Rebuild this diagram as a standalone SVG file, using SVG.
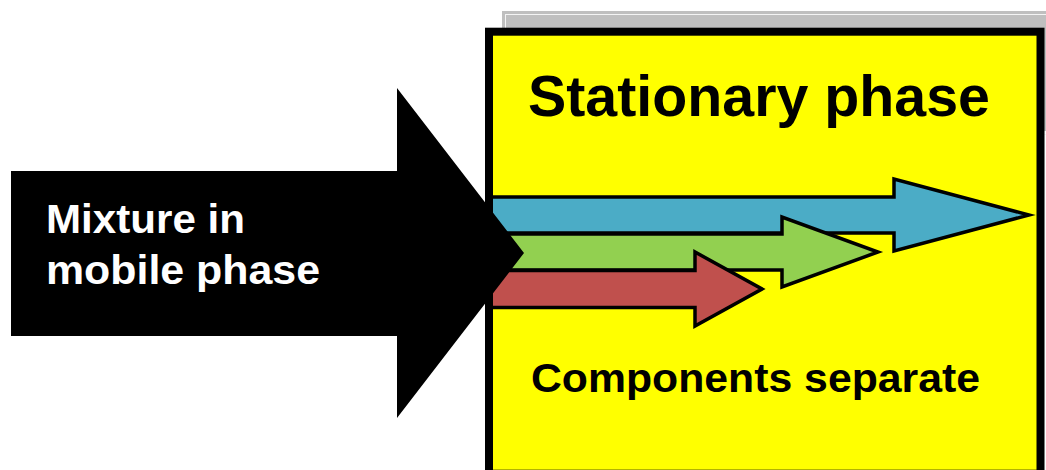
<svg xmlns="http://www.w3.org/2000/svg" width="1046" height="470" viewBox="0 0 1046 470">
  <style>
    .lbl { font-family: "Liberation Sans", Arial, sans-serif; font-weight: bold; }
    .band { stroke: #000; stroke-width: 3.5; stroke-linejoin: miter; }
  </style>
  <rect width="1046" height="470" fill="#ffffff"/>
  <g id="shadow">
    <rect x="502" y="11" width="560" height="120" fill="#BFBFBF"/>
    <rect x="505.5" y="14.5" width="560" height="120" fill="none" stroke="#F4F4F4" stroke-width="1"/>
  </g>
  <g id="stationary-phase">
    <rect x="489" y="31.7" width="551.5" height="442" fill="#FFFF00" stroke="#000000" stroke-width="8"/>
    <text class="lbl" x="528" y="116" font-size="58" textLength="462" lengthAdjust="spacingAndGlyphs" fill="#000">Stationary phase</text>
    <text class="lbl" x="531" y="392" font-size="41" textLength="449" lengthAdjust="spacingAndGlyphs" fill="#000">Components separate</text>
  </g>
  <g id="connectors">
    <path id="blue-band" class="band" fill="#4BACC6" d="M493,197 L894,197 L894,179 L1029,215 L894,251 L894,233 L493,233"/>
    <path id="green-band" class="band" fill="#92D050" d="M493,234 L782,234 L782,217 L878,252 L782,287 L782,270 L493,270"/>
    <path id="red-band" class="band" fill="#C0504D" d="M493,270.5 L695,270.5 L695,252 L762,289 L695,326 L695,307.5 L493,307.5"/>
  </g>
  <g id="mobile-phase">
    <polygon points="11,171 397,171 397,88 524,253 397,418 397,336 11,336" fill="#000000"/>
    <text class="lbl" x="46" y="233" font-size="41" textLength="199" lengthAdjust="spacingAndGlyphs" fill="#ffffff">Mixture in</text>
    <text class="lbl" x="46" y="284" font-size="41" textLength="274" lengthAdjust="spacingAndGlyphs" fill="#ffffff">mobile phase</text>
  </g>
</svg>
